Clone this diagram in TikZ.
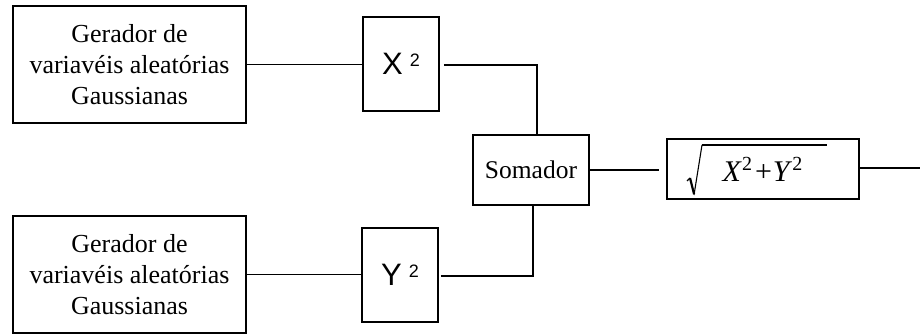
\documentclass[tikz,border=0pt]{standalone}
\usepackage{fontspec}
\setmainfont{Liberation Serif}
\newfontfamily\arialfont{Liberation Sans}
\usetikzlibrary{calc}

\newcommand{\quadr}[1]{#1\hspace{7pt}\raisebox{8pt}{\fontsize{18}{18}\selectfont 2}}
\newcommand{\expq}{\raisebox{11pt}{\fontsize{20}{20}\selectfont 2}}

\begin{document}
\begin{tikzpicture}[%
  x=1pt, y=-1pt,
  line width=1.7pt,
  blk/.style={draw, line width=1.6pt, inner sep=0pt, align=center},
  gen/.style={blk, minimum width=233pt, minimum height=117pt,
    font=\fontsize{26}{31}\selectfont},
  sq/.style={blk, minimum width=76pt, minimum height=94pt,
    font=\arialfont\fontsize{31}{31}\selectfont},
]

  \useasboundingbox (0,0) rectangle (920,334);

  \node[gen] (gen1) at (129.5,64.5) {Gerador de\\variavéis aleatórias\\Gaussianas};
  \node[gen] (gen2) at (129.5,274.5) {Gerador de\\variavéis aleatórias\\Gaussianas};

  \node[sq] (sqx) at (401,64) {\quadr{X}};
  \node[sq] (sqy) at (400,275) {\quadr{Y}};

  \node[blk, minimum width=116pt, minimum height=70pt,
    font=\fontsize{25.5}{25.5}\selectfont] (som) at (531,170) {Somador};

  \node[blk, minimum width=192pt, minimum height=60pt,
    font=\fontsize{30}{30}\selectfont] (raiz) at (763,169)
    {\hspace*{-1pt}\textit{X}\expq\kern3pt+\kern1pt\textit{Y}\expq};

  % radical
  \draw[line width=1.1pt] ($(raiz.center)+(-76,12)$) -- ($(raiz.center)+(-73,9)$);
  \draw[line width=2.2pt] ($(raiz.center)+(-73,9)$) -- ($(raiz.center)+(-69,25)$);
  \draw[line width=1.1pt] ($(raiz.center)+(-69,26)$) -- ($(raiz.center)+(-61,-24)$);
  \draw[line width=1.8pt] ($(raiz.center)+(-61,-24)$) -- ($(raiz.center)+(64,-24)$);

  \coordinate (saida) at (920,168);

  \draw (gen1.east) -- (gen1.east -| sqx.west);
  \draw (gen2.east) -- (gen2.east -| sqy.west);

  \draw[shorten <=4pt] (sqx.east |- 0,65) -| ([xshift=6pt]som.north);
  \draw[shorten <=2pt] (sqy.east |- 0,276) -| ([xshift=2pt]som.south);

  \draw[shorten >=7pt] (som.east) -- (som.east -| raiz.west);
  \draw (raiz.east |- saida) -- (saida);

\end{tikzpicture}
\end{document}
